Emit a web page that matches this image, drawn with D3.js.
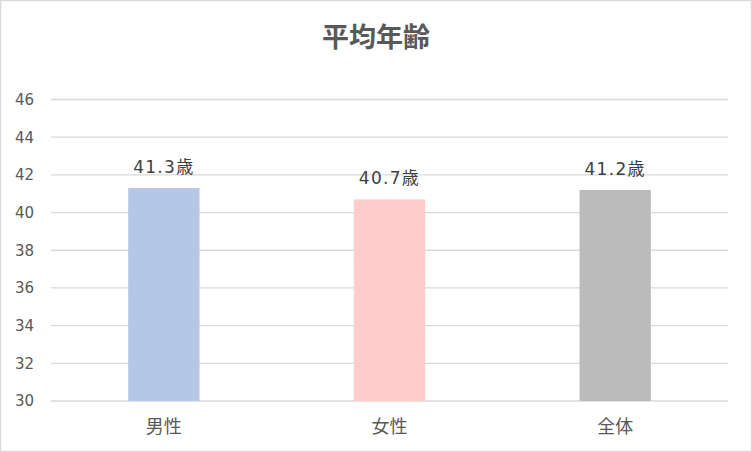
<!DOCTYPE html>
<html>
<head>
<meta charset="utf-8">
<script src="https://cdn.jsdelivr.net/npm/d3@7"></script>
<style>
  body { margin: 0; background: #fff; }
  svg { display: block; font-family: "Noto Sans CJK JP", "Noto Sans", sans-serif; }
  .num { font-family: "DejaVu Sans", "Noto Sans CJK JP", sans-serif; }
</style>
</head>
<body>
<svg id="chart"></svg>
<script>
const categories = ["男性", "女性", "全体"];
const values = [41.3, 40.7, 41.2];
const colors = ["#B4C7E7", "#FFCCCC", "#BBBBBB"];
const yTicks = [30, 32, 34, 36, 38, 40, 42, 44, 46];
const title = "平均年齢";
const unit = "歳";

const width = 752, height = 452;
const plot = { left: 51, right: 728, top: 99.5, bottom: 401 };

let svg = d3.select("svg#chart").attr("width", width).attr("height", height);

// chart border
svg.append("rect")
    .attr("x", 0.5).attr("y", 0.5)
    .attr("width", width - 1).attr("height", height - 1)
    .attr("fill", "#fff")
    .attr("stroke", "#D9D9D9")
    .attr("stroke-width", 1.5);

let x = d3.scaleBand().domain(categories).range([plot.left, plot.right]).padding(0);
let y = d3.scaleLinear().domain([30, 46]).range([plot.bottom, plot.top]);

// gridlines
svg.selectAll()
    .data(yTicks)
    .enter()
    .append("line")
    .attr("x1", plot.left).attr("x2", plot.right)
    .attr("y1", (d) => y(d)).attr("y2", (d) => y(d))
    .attr("stroke", "#D9D9D9")
    .attr("stroke-width", 1.3);

// y tick labels
svg.selectAll()
    .data(yTicks)
    .enter()
    .append("text")
    .classed("num", true)
    .attr("x", 34)
    .attr("y", (d) => y(d))
    .attr("dy", "0.36em")
    .attr("text-anchor", "end")
    .attr("fill", "#595959")
    .style("font-size", "15px")
    .text((d) => d);

const barW = x.bandwidth() * 0.316;

svg.selectAll()
    .data(values)
    .enter()
    .append("rect")
    .attr("x", (d, i) => x(categories[i]) + x.bandwidth() / 2 - barW / 2)
    .attr("y", (d) => y(d))
    .attr("width", barW)
    .attr("height", (d) => y(30) - y(d))
    .attr("fill", (d, i) => colors[i]);

// data labels
svg.selectAll()
    .data(values)
    .enter()
    .append("text")
    .classed("num", true)
    .attr("x", (d, i) => x(categories[i]) + x.bandwidth() / 2)
    .attr("y", (d) => y(d) - 15)
    .attr("text-anchor", "middle")
    .attr("fill", "#404040")
    .style("font-size", "17px")
    .style("letter-spacing", "1.3px")
    .text((d) => d.toFixed(1) + unit);

// category labels
svg.selectAll()
    .data(categories)
    .enter()
    .append("text")
    .attr("x", (d) => x(d) + x.bandwidth() / 2)
    .attr("y", 433)
    .attr("text-anchor", "middle")
    .attr("fill", "#595959")
    .style("font-size", "18px")
    .text((d) => d);

svg.append("text")
    .attr("x", width / 2)
    .attr("y", 47)
    .attr("text-anchor", "middle")
    .attr("fill", "#595959")
    .style("font-size", "27px")
    .style("font-weight", "bold")
    .text(title);
</script>
</body>
</html>
